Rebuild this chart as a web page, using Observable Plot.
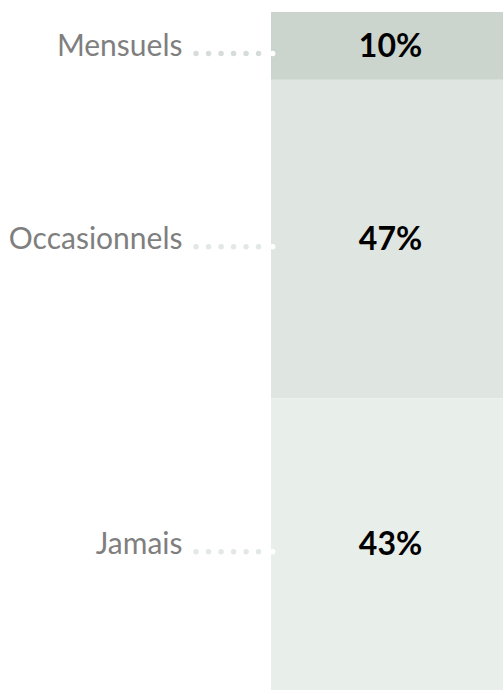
<!DOCTYPE html>
<html>
<head>
<meta charset="utf-8">
<script src="https://cdn.jsdelivr.net/npm/d3@7"></script>
<script src="https://cdn.jsdelivr.net/npm/@observablehq/plot@0.6"></script>
<style>
  html, body { margin: 0; padding: 0; background: #fff; }
  #chart svg { display: block; }
</style>
</head>
<body>
<div id="chart"></div>
<script>
const categories = ["Mensuels", "Occasionnels", "Jamais"];
const values = [10, 47, 43];
const fills = ["#cbd5ce", "#dfe6e2", "#e8eeea"];
const dotColors = ["#d6ddd8", "#e2e8e4", "#e2e8e4"];

const data = categories.map((c, i) => ({cat: c, value: values[i]}));

const plot = Plot.plot({
  width: 503,
  height: 691,
  marginTop: 12,
  marginBottom: 1,
  marginLeft: 271,
  marginRight: 0,
  style: {fontFamily: "Lato, sans-serif", background: "transparent", overflow: "visible"},
  x: {domain: [0, 1], axis: null},
  y: {domain: [0, 100], reverse: true, axis: null},
  color: {domain: categories, range: fills},
  marks: [
    Plot.rectY(data, Plot.stackY({x1: () => 0, x2: () => 1, y: "value", fill: "cat", order: null})),
    // leader dots
    Plot.ruleY(data, Plot.stackY({
      y: "value", order: null,
      x1: () => -0.323, x2: () => 0,
      stroke: d => dotColors[categories.indexOf(d.cat)],
      strokeWidth: 5.5, strokeLinecap: "round", strokeDasharray: "0 12.5",
      dy: 7, clip: false
    })),
    Plot.dot(data, Plot.stackY({
      y: "value", order: null, x: () => 0.005, r: 2.75, fill: "white", dy: 7
    })),
    // category labels
    Plot.text(data, Plot.stackY({
      y: "value", order: null, x: () => 0, text: "cat",
      textAnchor: "end", lineAnchor: "middle", dx: -89,
      fill: "#7f7f7f", fontSize: 30
    })),
    // percent labels
    Plot.text(data, Plot.stackY({
      y: "value", order: null, x: () => 0.5, text: d => d.value + "%",
      lineAnchor: "middle", dx: 3, fill: "#000", fontSize: 32, fontWeight: "bold"
    }))
  ]
});
document.getElementById("chart").appendChild(plot);
</script>
</body>
</html>
